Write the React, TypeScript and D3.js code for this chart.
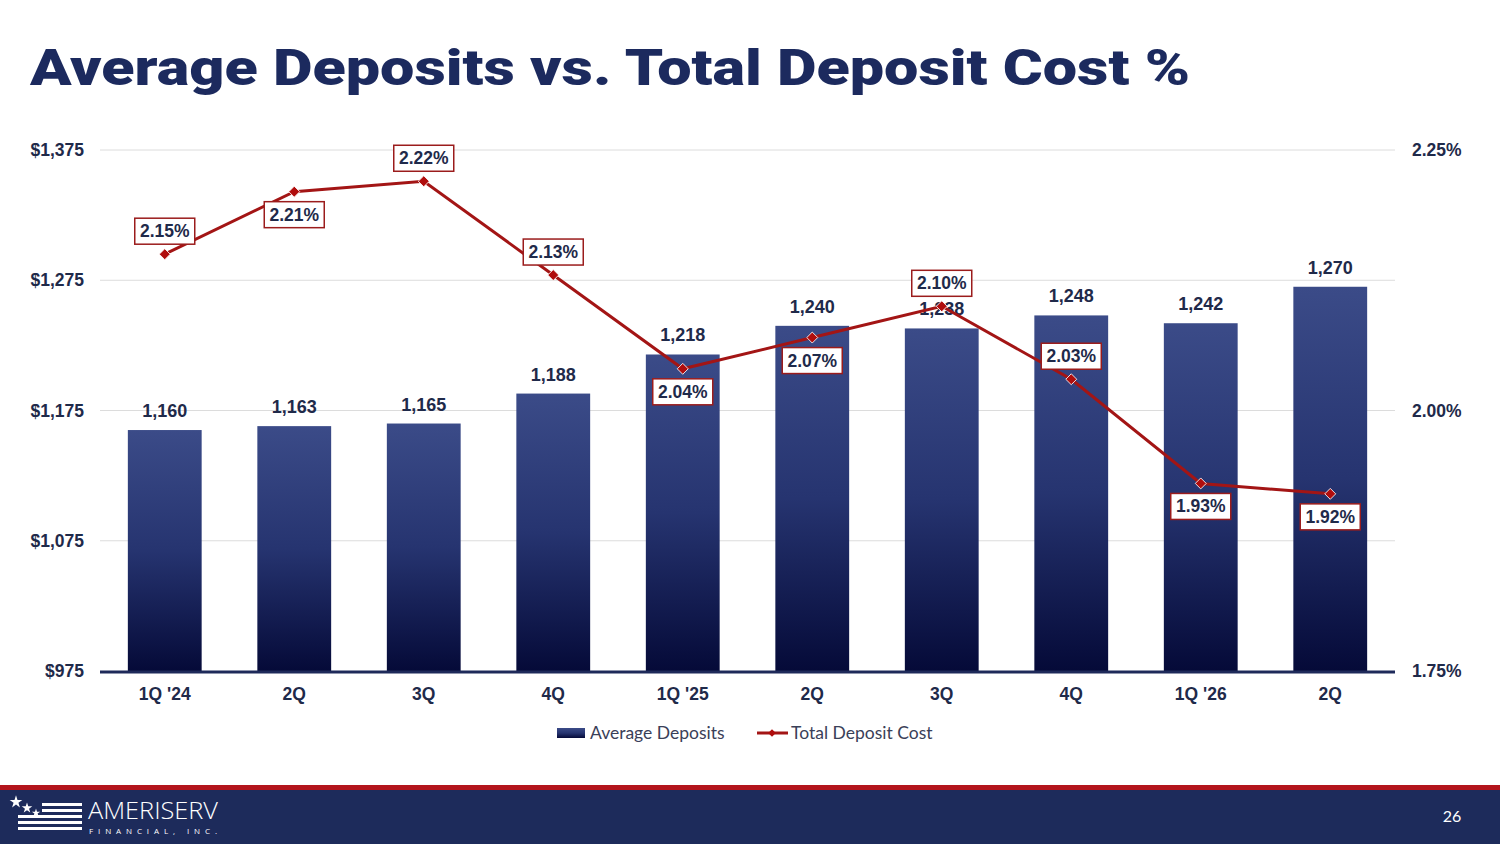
import React, { useEffect, useRef } from "react";
import * as d3 from "d3";

const quarters = ["1Q '24", "2Q", "3Q", "4Q", "1Q '25", "2Q ", "3Q ", "4Q ", "1Q '26", "2Q  "];
const avgDeposits = [1160, 1163, 1165, 1188, 1218, 1240, 1238, 1248, 1242, 1270];
const depositCost = [2.15, 2.21, 2.22, 2.13, 2.04, 2.07, 2.1, 2.03, 1.93, 1.92];
const leftTicks = [975, 1075, 1175, 1275, 1375];
const rightTicks = [1.75, 2.0, 2.25];
// label box above (-1) or below (+1) the point
const labelSide = [-1, 1, -1, -1, 1, 1, -1, -1, 1, 1];

const NAVY = "#1c2a5e";
const TEXT = "#1f2a4a";
const RED = "#a31515";

const App: React.FC = () => {
	const ref = useRef<SVGSVGElement>(null);

	useEffect(() => {
		document.body.style.margin = "0";
		const svg = d3.select(ref.current);
		svg.selectAll("*").remove();

		const W = 1500;
		const H = 844;
		const left = 100;
		const right = 1395;
		const top = 150;
		const bottom = 671;

		const defs = svg.append("defs");
		const grad = defs
			.append("linearGradient")
			.attr("id", "barGrad")
			.attr("x1", 0)
			.attr("y1", 0)
			.attr("x2", 0)
			.attr("y2", 1);
		grad.append("stop").attr("offset", "0%").attr("stop-color", "#3b4b88");
		grad.append("stop").attr("offset", "50%").attr("stop-color", "#263470");
		grad.append("stop").attr("offset", "100%").attr("stop-color", "#050a38");

		svg.append("rect").attr("width", W).attr("height", H).attr("fill", "#ffffff");

		// Title
		svg.append("text")
			.attr("x", 30)
			.attr("y", 85)
			.attr("textLength", 1160)
			.attr("lengthAdjust", "spacingAndGlyphs")
			.style("font-family", "Roboto, Lato, 'Liberation Sans', sans-serif")
			.style("font-weight", 900)
			.style("font-size", "50px")
			.style("fill", NAVY)
			.text("Average Deposits vs. Total Deposit Cost %");

		const x = d3.scaleBand().domain(quarters).range([left, right]).paddingInner(0.43).paddingOuter(0.215);
		const yL = d3.scaleLinear().domain([975, 1375]).range([bottom, top]);
		const yR = d3.scaleLinear().domain([1.75, 2.25]).range([bottom, top]);

		const font = "'Liberation Sans', Arial, sans-serif";

		// gridlines
		svg.append("g")
			.selectAll("line")
			.data(leftTicks.slice(1))
			.enter()
			.append("line")
			.attr("x1", left)
			.attr("x2", right)
			.attr("y1", (d) => yL(d))
			.attr("y2", (d) => yL(d))
			.attr("stroke", "#dcdcdc")
			.attr("stroke-width", 1);

		// left axis
		const axL = svg
			.append("g")
			.attr("transform", `translate(${left},0)`)
			.call(d3.axisLeft(yL).tickValues(leftTicks).tickSize(0).tickPadding(16).tickFormat((d) => "$" + d3.format(",")(d as number)));
		axL.select(".domain").remove();
		axL.selectAll("text").style("font-family", font).style("font-weight", 700).style("font-size", "17.5px").style("fill", TEXT);

		// right axis
		const axR = svg
			.append("g")
			.attr("transform", `translate(${right},0)`)
			.call(d3.axisRight(yR).tickValues(rightTicks).tickSize(0).tickPadding(17).tickFormat((d) => (d as number).toFixed(2) + "%"));
		axR.select(".domain").remove();
		axR.selectAll("text").style("font-family", font).style("font-weight", 700).style("font-size", "17.5px").style("fill", TEXT);

		// bars
		svg.append("g")
			.selectAll("rect")
			.data(avgDeposits)
			.enter()
			.append("rect")
			.attr("x", (_, i) => x(quarters[i]) || 0)
			.attr("y", (d) => yL(d))
			.attr("width", x.bandwidth())
			.attr("height", (d) => bottom - yL(d))
			.attr("fill", "url(#barGrad)");

		// bar labels
		svg.append("g")
			.selectAll("text")
			.data(avgDeposits)
			.enter()
			.append("text")
			.attr("x", (_, i) => (x(quarters[i]) || 0) + x.bandwidth() / 2)
			.attr("y", (d) => yL(d) - 13)
			.attr("text-anchor", "middle")
			.style("font-family", font)
			.style("font-weight", 700)
			.style("font-size", "18px")
			.style("fill", TEXT)
			.text((d) => d3.format(",")(d));

		// x axis line
		svg.append("line")
			.attr("x1", left)
			.attr("x2", right)
			.attr("y1", bottom + 1)
			.attr("y2", bottom + 1)
			.attr("stroke", "#1e2a5a")
			.attr("stroke-width", 3);

		const axB = svg
			.append("g")
			.attr("transform", `translate(0,${bottom})`)
			.call(d3.axisBottom(x).tickSize(0).tickPadding(17).tickFormat((d) => (d as string).trim()));
		axB.select(".domain").remove();
		axB.selectAll("text").style("font-family", font).style("font-weight", 700).style("font-size", "17.5px").style("fill", TEXT);

		// line
		const cx = (i: number) => (x(quarters[i]) || 0) + x.bandwidth() / 2;
		const line = d3
			.line<number>()
			.x((_, i) => cx(i))
			.y((d) => yR(d));
		svg.append("path").datum(depositCost).attr("d", line).attr("fill", "none").attr("stroke", RED).attr("stroke-width", 3);

		const diamond = d3.symbol().type(d3.symbolSquare).size(60);
		svg.append("g")
			.selectAll("path")
			.data(depositCost)
			.enter()
			.append("path")
			.attr("d", diamond)
			.attr("transform", (d, i) => `translate(${cx(i)},${yR(d)}) rotate(45)`)
			.attr("fill", "#b00d0d")
			.attr("stroke", "#ffffff")
			.attr("stroke-width", 0.8);

		// line labels
		const lbl = svg
			.append("g")
			.selectAll("g")
			.data(depositCost)
			.enter()
			.append("g")
			.attr("transform", (d, i) => `translate(${cx(i)},${yR(d) + labelSide[i] * 23})`);
		lbl.append("rect")
			.attr("x", -30)
			.attr("y", -13)
			.attr("width", 60)
			.attr("height", 26)
			.attr("fill", "#ffffff")
			.attr("stroke", "#9b1c1c")
			.attr("stroke-width", 1.5);
		lbl.append("text")
			.attr("y", 6)
			.attr("text-anchor", "middle")
			.style("font-family", font)
			.style("font-weight", 700)
			.style("font-size", "17.5px")
			.style("fill", TEXT)
			.text((d) => d.toFixed(2) + "%");

		// legend
		const leg = svg.append("g").attr("transform", "translate(0,733)");
		leg.append("rect").attr("x", 557).attr("y", -5).attr("width", 28).attr("height", 10).attr("fill", "url(#barGrad)");
		leg.append("text")
			.attr("x", 590)
			.attr("y", 6)
			.style("font-family", "Lato, 'Noto Sans', sans-serif")
			.style("font-size", "17.5px")
			.style("fill", "#3a4058")
			.text("Average Deposits");
		leg.append("line").attr("x1", 757).attr("x2", 788).attr("y1", 0).attr("y2", 0).attr("stroke", RED).attr("stroke-width", 3);
		leg.append("path")
			.attr("d", d3.symbol().type(d3.symbolSquare).size(30)())
			.attr("transform", "translate(772,0) rotate(45)")
			.attr("fill", "#b00d0d");
		leg.append("text")
			.attr("x", 791)
			.attr("y", 6)
			.style("font-family", "Lato, 'Noto Sans', sans-serif")
			.style("font-size", "17.5px")
			.style("fill", "#3a4058")
			.text("Total Deposit Cost");

		// footer
		svg.append("rect").attr("x", 0).attr("y", 785).attr("width", W).attr("height", 5).attr("fill", "#b3141c");
		svg.append("rect").attr("x", 0).attr("y", 790).attr("width", W).attr("height", 54).attr("fill", "#1d2b5b");

		const logo = svg.append("g");
		const stripes = [
			{ x: 42, y: 803 },
			{ x: 42, y: 809 },
			{ x: 18, y: 815 },
			{ x: 18, y: 821 },
			{ x: 18, y: 827 },
		];
		logo.selectAll("rect")
			.data(stripes)
			.enter()
			.append("rect")
			.attr("x", (d) => d.x)
			.attr("y", (d) => d.y)
			.attr("width", (d) => 82 - d.x)
			.attr("height", 3)
			.attr("fill", "#ffffff");
		const stars = [
			{ x: 16, y: 802, s: 50 },
			{ x: 27, y: 808, s: 35 },
			{ x: 36, y: 813, s: 22 },
		];
		logo.selectAll("path")
			.data(stars)
			.enter()
			.append("path")
			.attr("d", (d) => d3.symbol().type(d3.symbolStar).size(d.s)())
			.attr("transform", (d) => `translate(${d.x},${d.y})`)
			.attr("fill", "#ffffff");
		logo.append("text")
			.attr("x", 88)
			.attr("y", 819)
			.attr("textLength", 130)
			.attr("lengthAdjust", "spacingAndGlyphs")
			.style("font-family", "'Open Sans', 'Noto Sans', sans-serif")
			.style("font-weight", 300)
			.style("font-size", "23px")
			.style("fill", "#ffffff")
			.text("AMERISERV");
		logo.append("text")
			.attr("x", 89)
			.attr("y", 834)
			.attr("textLength", 128)
			.attr("lengthAdjust", "spacing")
			.style("font-family", "'Open Sans', 'Noto Sans', sans-serif")
			.style("font-size", "8px")
			.style("fill", "#ffffff")
			.text("FINANCIAL, INC.");

		svg.append("text")
			.attr("x", 1452)
			.attr("y", 822)
			.attr("text-anchor", "middle")
			.style("font-family", "Lato, 'Noto Sans', sans-serif")
			.style("font-size", "16px")
			.style("fill", "#ffffff")
			.text("26");
	}, []);

	return <svg ref={ref} width={1500} height={844} style={{ display: "block" }} />;
};

export default App;
